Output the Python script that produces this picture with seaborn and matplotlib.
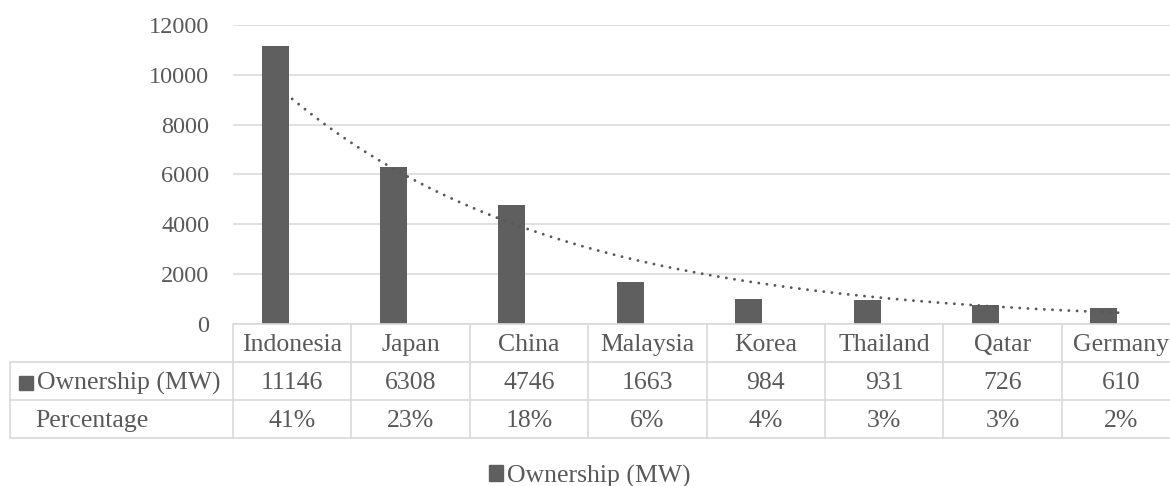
import numpy as np
import pandas as pd
import matplotlib
matplotlib.use("Agg")
import matplotlib.pyplot as plt
from matplotlib.patches import Patch
import seaborn as sns

# Data
countries = ["Indonesia", "Japan", "China", "Malaysia", "Korea", "Thailand", "Qatar", "Germany"]
ownership_mw = [11146, 6308, 4746, 1663, 984, 931, 726, 610]
percentage = [41, 23, 18, 6, 4, 3, 3, 2]
series_names = ["Ownership (MW)", "Percentage"]
y_ticks = [0, 2000, 4000, 6000, 8000, 10000, 12000]

sns.set_theme(style="white")
plt.rcParams["font.family"] = ["Liberation Serif", "DejaVu Sans"]

TEXT = "#595959"
BAR = "#5f5f5f"
GRID = "#d9d9d9"

df = pd.DataFrame({
    "Country": countries * 2,
    "Series": [series_names[0]] * len(countries) + [series_names[1]] * len(countries),
    "Value": ownership_mw + [p / 100 for p in percentage],
})

W, H = 1170, 486
fig = plt.figure(figsize=(W / 100, H / 100), dpi=100)
ax_left, ax_bottom_px, ax_top_px, col_px = 233, 323.5, 25, 118.4
ax = fig.add_axes([ax_left / W, (H - ax_bottom_px) / H,
                   col_px * len(countries) / W, (ax_bottom_px - ax_top_px) / H])

sns.barplot(data=df, x="Country", y="Value", hue="Series", hue_order=series_names,
            palette=[BAR, BAR], saturation=1, width=0.576, gap=0.208,
            errorbar=None, legend=False, ax=ax, linewidth=0)
# the percentage series only lives in the data table
for bar in ax.containers[1]:
    bar.set_visible(False)

# exponential trendline through the ownership values
xs = np.arange(len(countries))
b, a = np.polyfit(xs, np.log(ownership_mw), 1)
xf = np.linspace(0, len(countries) - 1, 300)
ax.plot(xf, np.exp(a + b * xf), color=TEXT, lw=2.1,
        linestyle=(0, (0.01, 2.8)), dash_capstyle="round", zorder=3)

ax.set_xlim(-0.5, len(countries) - 0.5)
ax.set_ylim(0, 12000)
ax.set_yticks(y_ticks)
ax.set_xticks([])
ax.set_xlabel("")
ax.set_ylabel("")
ax.tick_params(axis="y", length=0, pad=17, labelsize=17.5, labelcolor=TEXT)
ax.yaxis.grid(True, color=GRID, lw=1.1)
ax.set_axisbelow(True)
for s in ax.spines.values():
    s.set_visible(False)

# data table under the plot
tr = ax.get_xaxis_transform()
rh = 38 / (ax_bottom_px - ax_top_px)
n = len(countries)
x0, x1 = -0.5, n - 0.5
xl = x0 - (ax_left - 10) / col_px
line_kw = dict(color=GRID, lw=1.2, transform=tr, clip_on=False, zorder=1)
ax.plot([x0, x1], [0, 0], **line_kw)
for k in (1, 2, 3):
    ax.plot([xl, x1], [-k * rh, -k * rh], **line_kw)
for i in range(n + 1):
    ax.plot([x0 + i, x0 + i], [0, -3 * rh], **line_kw)
ax.plot([xl, xl], [-rh, -3 * rh], **line_kw)

fs = 18.5
for i, c in enumerate(countries):
    ax.text(i, -0.57 * rh, c, ha="center", va="center", fontsize=fs, color=TEXT,
            transform=tr, clip_on=False)
    ax.text(i, -1.57 * rh, f"{ownership_mw[i]}", ha="center", va="center", fontsize=fs,
            color=TEXT, transform=tr, clip_on=False)
    ax.text(i, -2.57 * rh, f"{percentage[i]}%", ha="center", va="center", fontsize=fs,
            color=TEXT, transform=tr, clip_on=False)

ax.plot([x0 - (ax_left - 26) / col_px], [-1.57 * rh], marker="s", ms=10.5, color=BAR,
        transform=tr, clip_on=False, linestyle="none")
ax.text(x0 - (ax_left - 37) / col_px, -1.57 * rh, series_names[0], ha="left", va="center",
        fontsize=fs, color=TEXT, transform=tr, clip_on=False)
ax.text(x0 - (ax_left - 35) / col_px, -2.57 * rh, series_names[1], ha="left", va="center",
        fontsize=fs, color=TEXT, transform=tr, clip_on=False)

fig.legend(handles=[Patch(color=BAR, label=series_names[0])], loc="center",
           bbox_to_anchor=(590 / W, 10 / H), frameon=False, fontsize=fs,
           labelcolor=TEXT, handlelength=0.55, handleheight=0.55, handletextpad=0.15)

fig.savefig("out.png", dpi=100)
